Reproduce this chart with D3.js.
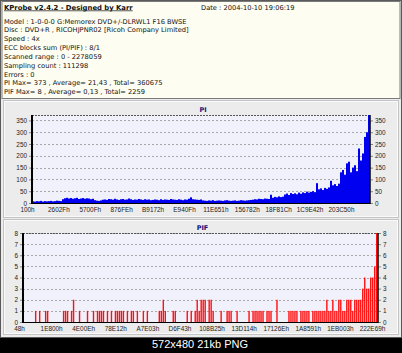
<!DOCTYPE html>
<html>
<head>
<meta charset="utf-8">
<script src="https://cdn.jsdelivr.net/npm/d3@7"></script>
<style>
body { margin: 0; background: #000; }
svg { display: block; }
</style>
</head>
<body>
<div id="chart"></div>
<script>
var titleText = "KProbe v2.4.2 - Designed by Karr";
var dateText = "Date : 2004-10-10 19:06:19";
var infoLines = [
	"Model : 1-0-0-0 G:Memorex DVD+/-DLRWL1 F16 BWSE",
	"Disc : DVD+R , RICOHJPNR02 [Ricoh Company Limited]",
	"Speed : 4x",
	"ECC blocks sum (PI/PIF) : 8/1",
	"Scanned range : 0 - 2278059",
	"Sampling count : 111298",
	"Errors : 0",
	"PI Max= 373 , Average= 21,43 , Total= 360675",
	"PIF Max= 8 , Average= 0,13 , Total= 2259"
];
var caption = "572x480 21kb PNG";

// PI per sample bucket
var piValues = [
	7, 6, 8, 7, 9, 6, 8, 7, 8, 9, 7, 8, 10, 9, 8,
	16, 20, 22, 19, 21, 18, 20, 22, 17, 19, 21, 18, 20, 19, 16, 18,
	12, 10, 9, 11,
	14, 15, 13, 17, 16, 14, 18, 15, 13, 16, 17, 14, 15, 19, 16, 13, 15, 14, 17, 15, 13, 16, 14, 15, 12,
	13, 15, 14, 12, 16, 13, 15, 14, 13, 17, 15, 14, 13, 16, 14, 12, 15, 14, 18, 24, 16, 15, 14, 13, 15,
	11, 10, 9, 11, 10, 12, 9, 10, 11, 10, 9, 11, 12, 10, 9, 10, 11, 9, 10, 12, 11, 10, 11, 12, 13,
	14, 16, 15, 18, 17, 16, 19, 18, 17,
	35, 22,
	26, 24, 28, 25, 27,
	36, 40, 34, 42, 38, 41, 37, 44, 39,
	45, 42, 48, 44, 47, 50, 46,
	84,
	58, 62, 55, 64, 60, 66,
	94,
	75, 80, 72, 82,
	130,
	140, 120, 168, 175,
	130, 150, 160, 135,
	231, 180,
	210, 280, 300,
	373
];
var piXLabels = ["100h", "2602Fh", "5700Fh", "876FEh", "B9172h", "E940Fh", "11E651h", "156782h", "18F81Ch", "1C9E42h", "203C50h"];
var piYTicks = [0, 50, 100, 150, 200, 250, 300, 350];
var piMax = 373;

// PIF per sample bucket
var pifValues = [
	0, 0, 0, 0, 0, 0, 1, 0, 1, 0, 0, 1, 1, 0, 0, 0, 0, 0, 0, 0,
	1, 1, 1, 0, 1, 2, 0, 0, 1, 0, 0, 0, 1, 0, 0, 1, 0, 1, 1, 1,
	1, 0, 1, 0, 1, 0, 1, 1, 1, 1, 1, 0, 1, 0, 1, 1, 0, 1, 0, 0,
	1, 0, 1, 0, 0, 0, 0, 0, 1, 1, 2, 1, 0, 0, 0, 1, 1, 0, 0, 0,
	0, 0, 1, 0, 1, 0, 1, 2, 1, 2, 2, 2, 0, 2, 2, 1, 0, 0, 0, 1,
	0, 0, 1, 1, 1, 0, 0, 1, 0, 0, 0, 0, 0, 1, 0, 1, 1, 1, 1, 1,
	1, 0, 1, 1, 1, 0, 0, 2, 0, 0, 0, 0, 0, 1, 1, 1, 1, 1, 0, 1,
	1, 1, 1, 1, 0, 1, 1, 1, 1, 1, 1, 1, 2, 1, 1, 2, 1, 1, 2, 2,
	1, 1, 2, 2, 2, 1, 2, 2, 2, 2, 3, 4, 3, 3, 4, 4, 5, 8
];
var pifXLabels = ["48h", "1E800h", "4E00Eh", "78E12h", "A7E03h", "D6F43h", "108B25h", "13D114h", "17126Eh", "1A8591h", "1EB003h", "222E69h"];
var pifYTicks = [0, 1, 2, 3, 4, 5, 6, 7, 8];
var pifMax = 8;

var W = 402, H = 353;
var fontFamily = "'DejaVu Sans', Verdana, sans-serif";
var axisFont = "'Liberation Sans', Arial, sans-serif";

var svg = d3.select("#chart").append("svg")
	.attr("width", W)
	.attr("height", H);

// frame
svg.append("rect").attr("x", 0).attr("y", 0).attr("width", W).attr("height", 338).attr("fill", "#5a5a5a");
svg.append("rect").attr("x", 1).attr("y", 1).attr("width", W - 2).attr("height", 336).attr("fill", "#ececec");

// header
svg.append("rect").attr("x", 2).attr("y", 1.5).attr("width", W - 4).attr("height", 97)
	.attr("fill", "#fdfdf1").attr("stroke", "#7a7a7a").attr("stroke-width", 1);

var header = svg.append("g")
	.style("font-family", fontFamily)
	.style("font-size", "6.7px")
	.style("fill", "#111");

header.append("text")
	.attr("x", 4)
	.attr("y", 9.5)
	.style("font-weight", "bold")
	.style("font-size", "6.85px")
	.style("text-decoration", "underline")
	.text(titleText);

header.append("text")
	.attr("x", 201)
	.attr("y", 9.5)
	.text(dateText);

header.selectAll(".info")
	.data(infoLines)
	.enter().append("text")
	.attr("x", 4)
	.attr("y", function(d, i) { return 23.5 + i * 8.85; })
	.text(function(d) { return d; });

function panel(y0, y1) {
	svg.append("rect").attr("x", 3.5).attr("y", y0 + 0.5).attr("width", W - 7).attr("height", y1 - y0)
		.attr("fill", "#ececec").attr("stroke", "#c4c4c4");
	svg.append("rect").attr("x", 4.5).attr("y", y0 + 1.5).attr("width", W - 9).attr("height", y1 - y0 - 2)
		.attr("fill", "none").attr("stroke", "#fafafa");
}

function chart(opt) {
	var g = svg.append("g");
	var n = opt.values.length;

	var x = d3.scaleLinear().domain([0, n]).range([opt.left, opt.right]);
	var y = d3.scaleLinear().domain([0, opt.max]).range([opt.bottom, opt.top]);

	g.append("rect")
		.attr("x", opt.left)
		.attr("y", opt.top)
		.attr("width", opt.right - opt.left)
		.attr("height", opt.bottom - opt.top)
		.attr("fill", "#f1f1fb");

	// grid
	g.selectAll(".grid")
		.data(opt.yTicks.filter(function(d) { return d > 0; }))
		.enter().append("line")
		.attr("x1", opt.left)
		.attr("x2", opt.right)
		.attr("y1", function(d) { return Math.round(y(d)) + 0.5; })
		.attr("y2", function(d) { return Math.round(y(d)) + 0.5; })
		.style("stroke", "#a8a8a8")
		.style("stroke-dasharray", "2,2");

	g.append("line")
		.attr("x1", opt.left).attr("x2", opt.right)
		.attr("y1", opt.top + 0.5).attr("y2", opt.top + 0.5)
		.style("stroke", "#555")
		.style("stroke-dasharray", "2,1");

	// bars
	g.selectAll(".bar")
		.data(opt.values)
		.enter().append("rect")
		.attr("x", function(d, i) { return x(i); })
		.attr("width", opt.barWidth || (x(1) - x(0)))
		.attr("y", function(d) { return y(d); })
		.attr("height", function(d) { return opt.bottom - y(d); })
		.attr("fill", opt.color);

	// axes
	var left = g.append("g")
		.attr("transform", "translate(" + opt.left + ",0)")
		.call(d3.axisLeft(y).tickValues(opt.yTicks).tickSize(3).tickPadding(2));
	var right = g.append("g")
		.attr("transform", "translate(" + opt.right + ",0)")
		.call(d3.axisRight(y).tickValues(opt.yTicks).tickSize(3).tickPadding(2));

	[left, right].forEach(function(a) {
		a.select(".domain").remove();
		a.selectAll("line").style("stroke", "#888");
		a.selectAll("text")
			.style("font-family", axisFont)
			.style("font-size", "6.4px")
			.style("fill", "#222");
	});

	g.append("line")
		.attr("x1", opt.left).attr("x2", opt.left)
		.attr("y1", opt.top).attr("y2", opt.bottom + 1)
		.style("stroke", "#000").style("stroke-width", 2);
	g.append("line")
		.attr("x1", opt.right).attr("x2", opt.right)
		.attr("y1", opt.top).attr("y2", opt.bottom + 1)
		.style("stroke", "#000").style("stroke-width", 1.5);
	g.append("line")
		.attr("x1", opt.left).attr("x2", opt.right)
		.attr("y1", opt.bottom + 0.5).attr("y2", opt.bottom + 0.5)
		.style("stroke", "#000");

	var labelScale = d3.scalePoint()
		.domain(opt.xLabels)
		.range(opt.labelRange);

	var bottom = g.append("g")
		.attr("transform", "translate(0," + (opt.bottom + 1) + ")")
		.call(d3.axisBottom(labelScale).tickSize(0).tickPadding(3.5));
	bottom.select(".domain").remove();
	bottom.selectAll("text")
		.style("font-family", axisFont)
		.style("font-size", "6.4px")
		.style("fill", "#222");

	g.append("text")
		.attr("x", (opt.left + opt.right) / 2 + 2)
		.attr("y", opt.titleY)
		.style("font-family", fontFamily)
		.style("font-size", "6.5px")
		.style("font-weight", "bold")
		.style("fill", "#10107a")
		.style("text-anchor", "middle")
		.text(opt.title);
}

panel(100, 217);
panel(219, 334);

chart({
	title: "PI",
	titleY: 112,
	values: piValues,
	max: piMax,
	yTicks: piYTicks,
	xLabels: piXLabels,
	left: 32, right: 370, top: 115, bottom: 203,
	labelRange: [27, 341],
	color: "#0000f0"
});

chart({
	title: "PIF",
	titleY: 230,
	values: pifValues,
	max: pifMax,
	yTicks: pifYTicks,
	xLabels: pifXLabels,
	left: 23, right: 378, top: 233, bottom: 322,
	labelRange: [19, 372],
	barWidth: 1.4,
	color: "#ff1010"
});

// caption band
svg.append("rect").attr("x", 0).attr("y", 338).attr("width", W).attr("height", H - 338).attr("fill", "#000");
svg.append("text")
	.attr("x", 200)
	.attr("y", 348)
	.style("font-family", axisFont)
	.style("font-size", "11px")
	.style("fill", "#fff")
	.style("text-anchor", "middle")
	.text(caption);
</script>
</body>
</html>
